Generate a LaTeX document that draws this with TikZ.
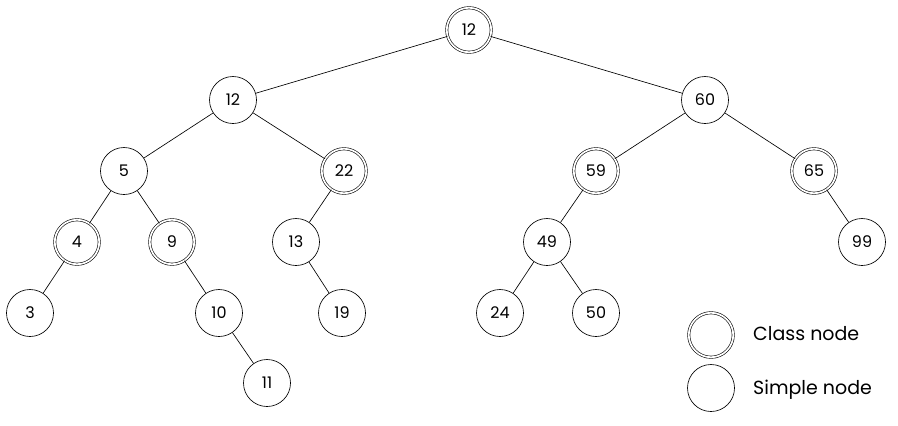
\documentclass[tikz,border=0pt]{standalone}
\usepackage{fontspec}
\setmainfont{Poppins}
\begin{document}
\begin{tikzpicture}[x=1pt,y=-1pt,
  simple/.style={circle,draw,line width=0.65pt,minimum size=47pt,inner sep=0pt,font=\fontsize{16}{18}\selectfont},
  cls/.style={circle,draw,line width=0.6pt,double,double distance=1.7pt,minimum size=44.5pt,inner sep=0pt,font=\fontsize{16}{18}\selectfont},
  edge/.style={line width=0.65pt},
  lbl/.style={anchor=west,inner sep=0pt,font=\fontsize{19}{22}\selectfont}]
\useasboundingbox (0,0) rectangle (898,426);
\node[cls] (r) at (469,30) {12};
\node[simple] (a) at (233,100) {12};
\node[simple] (b) at (705,100) {60};
\node[simple] (c) at (124,171) {5};
\node[cls] (d) at (344,171) {22};
\node[cls] (e) at (596,171) {59};
\node[cls] (f) at (814,171) {65};
\node[cls] (g) at (77,242) {4};
\node[cls] (h) at (172,242) {9};
\node[simple] (i) at (296,242) {13};
\node[simple] (j) at (547,242) {49};
\node[simple] (k) at (862,242) {99};
\node[simple] (l) at (30,313) {3};
\node[simple] (m) at (219,313) {10};
\node[simple] (n) at (342,313) {19};
\node[simple] (o) at (500,313) {24};
\node[simple] (p) at (596,313) {50};
\node[simple] (q) at (267,383) {11};
\node[cls] (lc) at (711,335) {};
\node[simple] (ls) at (711,388) {};
\node[lbl] (tc) at (753,334) {Class node};
\node[lbl] (ts) at (753,390) {Simple node};
\draw[edge] (r)--(a) (r)--(b) (a)--(c) (a)--(d) (b)--(e) (b)--(f)
  (c)--(g) (c)--(h) (d)--(i) (e)--(j) (f)--(k)
  (g)--(l) (h)--(m) (i)--(n) (j)--(o) (j)--(p) (m)--(q);
\end{tikzpicture}
\end{document}
